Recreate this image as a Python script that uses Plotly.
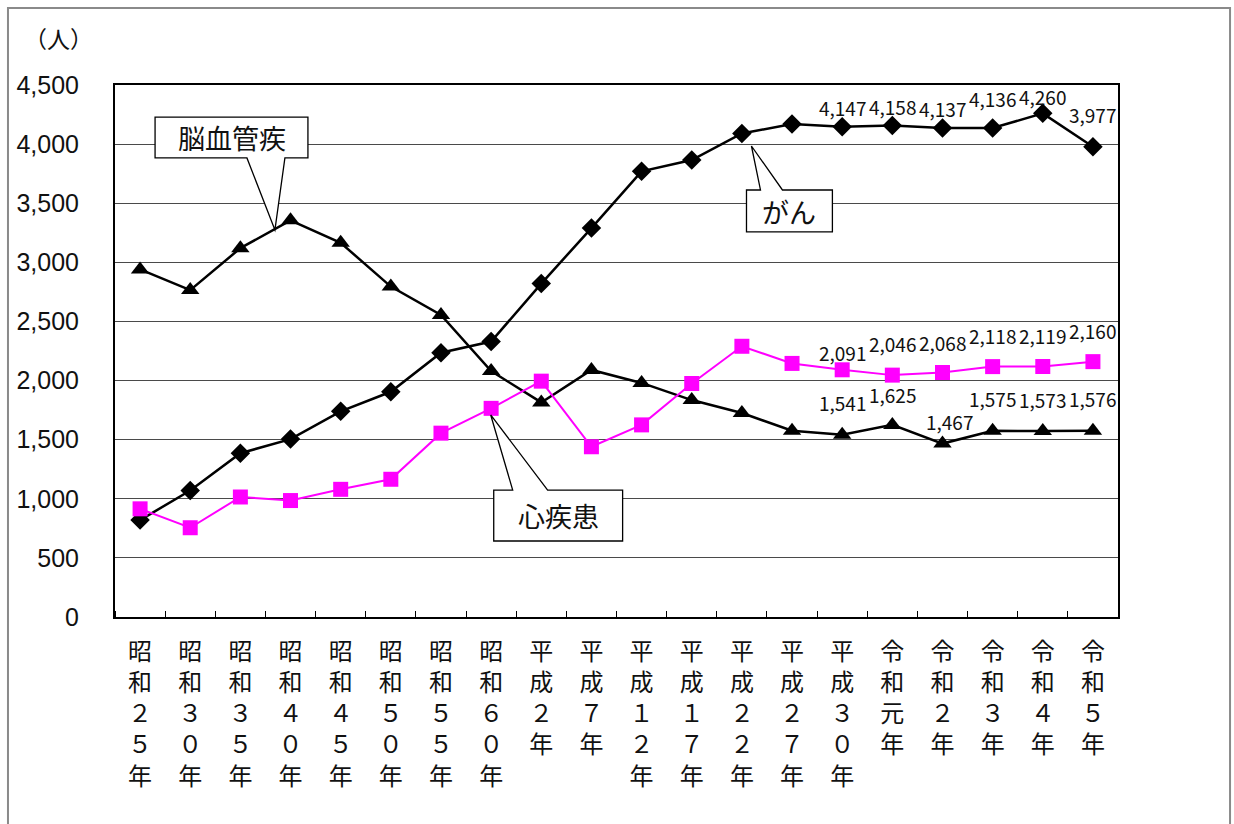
import plotly.graph_objects as go

# Survey years (vertical, full-width labels)
years = ["昭和２５年", "昭和３０年", "昭和３５年", "昭和４０年", "昭和４５年",
         "昭和５０年", "昭和５５年", "昭和６０年", "平成２年", "平成７年",
         "平成１２年", "平成１７年", "平成２２年", "平成２７年", "平成３０年",
         "令和元年", "令和２年", "令和３年", "令和４年", "令和５年"]

# Deaths by cause (persons)
cancer = [820, 1070, 1385, 1505, 1740, 1905, 2235, 2330, 2820, 3290,
          3770, 3865, 4090, 4170, 4147, 4158, 4137, 4136, 4260, 3977]
cerebro = [2940, 2765, 3120, 3355, 3165, 2795, 2555, 2080, 1815, 2090,
           1980, 1835, 1725, 1575, 1541, 1625, 1467, 1575, 1573, 1576]
heart = [915, 755, 1015, 985, 1080, 1165, 1555, 1765, 1995, 1440,
         1625, 1975, 2290, 2145, 2091, 2046, 2068, 2118, 2119, 2160]

# Only the most recent years carry value labels
labelled = list(range(14, 20))

tick_text = ["<br>".join(list(s)) for s in years]
xs = list(range(len(years)))

JP = "Noto Sans CJK JP"

fig = go.Figure()
fig.add_trace(go.Scatter(
    x=xs, y=cancer, mode="lines+markers", name="がん",
    line=dict(color="black", width=2.5),
    marker=dict(symbol="diamond", size=15, color="black")))
fig.add_trace(go.Scatter(
    x=xs, y=cerebro, mode="lines+markers", name="脳血管疾",
    line=dict(color="black", width=2.5),
    marker=dict(symbol="triangle-up", size=16, color="black")))
fig.add_trace(go.Scatter(
    x=xs, y=heart, mode="lines+markers", name="心疾患",
    line=dict(color="#FF00FF", width=2),
    marker=dict(symbol="square", size=15, color="#FF00FF")))

# Value labels above points
cancer_shift = {14: 19, 15: 19, 16: 19, 17: 30, 18: 17, 19: 32}
heart_shift = {14: 17, 15: 32, 16: 30, 17: 31, 18: 31, 19: 31}
cerebro_shift = {14: 32, 15: 30, 16: 22, 17: 32, 18: 32, 19: 32}
cerebro_xshift = {16: 7}

annotations = []
for series, shifts, xsh in ((cancer, cancer_shift, {}),
                            (heart, heart_shift, {}),
                            (cerebro, cerebro_shift, cerebro_xshift)):
    for i in labelled:
        annotations.append(dict(
            x=xs[i], y=series[i], text=f"{series[i]:,}", showarrow=False,
            yshift=shifts[i], xshift=xsh.get(i, 0),
            font=dict(family=JP, size=19, color="#111")))

# Callout texts
callout_font = dict(family=JP, size=27, color="#111")
annotations += [
    dict(x=1.823, y=4056, text="脳血管疾", showarrow=False, font=callout_font),
    dict(x=12.948, y=3434, text="がん", showarrow=False, font=callout_font),
    dict(x=8.337, y=859, text="心疾患", showarrow=False, font=callout_font),
    dict(x=-0.0563, y=1.0883, xref="paper", yref="paper", text="（人）",
         xanchor="center", yanchor="middle", showarrow=False,
         font=dict(family=JP, size=23, color="#111")),
]

callout_line = dict(color="black", width=1.3)
shapes = [
    # outer frame
    dict(type="rect", xref="paper", yref="paper",
         x0=-0.1067, x1=1.1117, y0=-0.40, y1=1.1447,
         line=dict(color="#8a8a8a", width=2), fillcolor="rgba(0,0,0,0)",
         layer="below"),
    # 脳血管疾 callout, pointer downward
    dict(type="path", xref="x", yref="y", fillcolor="white", line=callout_line,
         path="M 0.299 4229 L 3.347 4229 L 3.347 3883 L 2.888 3883 "
              "L 2.689 3274 L 2.131 3883 L 0.299 3883 Z"),
    # がん callout, pointer upward
    dict(type="path", xref="x", yref="y", fillcolor="white", line=callout_line,
         path="M 12.092 3612 L 12.371 3612 L 12.191 3984 L 12.809 3612 "
              "L 13.805 3612 L 13.805 3257 L 12.092 3257 Z"),
    # 心疾患 callout, pointer upward
    dict(type="path", xref="x", yref="y", fillcolor="white", line=callout_line,
         path="M 7.052 1074 L 7.430 1074 L 6.992 1709 L 8.127 1074 "
              "L 9.622 1074 L 9.622 643 L 7.052 643 Z"),
]

fig.update_layout(
    width=1234, height=824,
    margin=dict(l=115, r=116, t=85, b=207),
    paper_bgcolor="white", plot_bgcolor="white",
    showlegend=False,
    annotations=annotations, shapes=shapes,
)
fig.update_xaxes(
    range=[-0.5, 19.5], tickmode="array", tickvals=xs, ticktext=tick_text,
    ticks="", showgrid=False, zeroline=False,
    showline=True, linecolor="black", linewidth=2, mirror=True,
    tickfont=dict(family=JP, size=24, color="#111"),
    ticklabelstandoff=12,
    minor=dict(tickmode="linear", tick0=0.5, dtick=1, ticks="inside",
               ticklen=6, tickcolor="black", tickwidth=1, showgrid=False),
)
fig.update_yaxes(
    range=[0, 4500], tickmode="linear", tick0=0, dtick=500,
    tickformat=",d", ticks="",
    showgrid=True, gridcolor="#4a4a4a", gridwidth=1.4, zeroline=False,
    showline=True, linecolor="black", linewidth=2, mirror=True,
    tickfont=dict(family="Liberation Sans", size=25, color="#111"),
    ticklabelstandoff=29,
)

fig.write_html("out.html")
